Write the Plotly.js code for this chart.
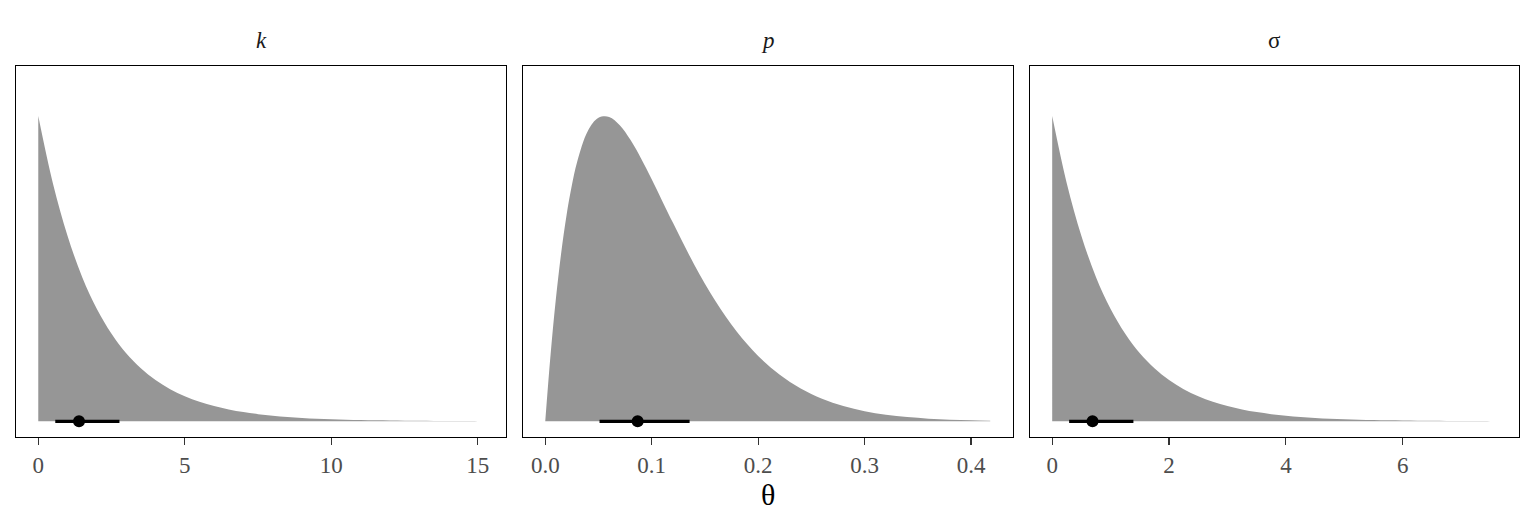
<!DOCTYPE html>
<html>
<head>
<meta charset="utf-8">
<script src="https://cdn.plot.ly/plotly-3.0.1.min.js"></script>
<style>html,body{margin:0;padding:0;background:#fff;}#chart{width:1536px;height:528px;}</style>
</head>
<body>
<div id="chart"></div>
<script>
// Facet labels
const facetLabels = ["<i>k</i>", "<i>p</i>", "σ"];
const axisTitle = "θ";

// k: slab (scaled density)
const kX = [0, 0.5, 1, 1.5, 2, 2.5, 3, 3.5, 4, 4.5, 5, 5.5, 6, 6.5, 7, 7.5, 8, 8.5, 9, 9.5, 10, 10.5, 11, 11.5, 12, 12.5, 13, 13.5, 14, 14.5, 15, 15.2];
const kH = [1.000, 0.779, 0.607, 0.472, 0.368, 0.287, 0.223, 0.174, 0.135, 0.105, 0.082, 0.064, 0.050, 0.0388, 0.0302, 0.0235, 0.0183, 0.0143, 0.0111, 0.0087, 0.0067, 0.0052, 0.0041, 0.0032, 0.0025, 0.0019, 0.0015, 0.0012, 0.0009, 0.0007, 0.00055, 0.0005];
// p
const pX = [0, 0.005, 0.01, 0.015, 0.02, 0.025, 0.03, 0.04, 0.05, 0.06, 0.07, 0.08, 0.09, 0.10, 0.12, 0.14, 0.16, 0.18, 0.20, 0.22, 0.24, 0.26, 0.28, 0.30, 0.32, 0.34, 0.36, 0.38, 0.40, 0.418];
const pH = [0, 0.218, 0.401, 0.552, 0.675, 0.773, 0.850, 0.951, 0.994, 0.997, 0.970, 0.922, 0.861, 0.793, 0.650, 0.513, 0.393, 0.293, 0.214, 0.153, 0.1075, 0.074, 0.050, 0.0332, 0.0216, 0.0138, 0.0087, 0.0053, 0.0032, 0.0020];
// sigma
const sX = [0, 0.25, 0.5, 0.75, 1, 1.25, 1.5, 1.75, 2, 2.25, 2.5, 2.75, 3, 3.25, 3.5, 3.75, 4, 4.25, 4.5, 4.75, 5, 5.25, 5.5, 5.75, 6, 6.25, 6.5, 6.75, 7, 7.25, 7.5, 7.6];
const sH = [1.000, 0.779, 0.607, 0.472, 0.368, 0.287, 0.223, 0.174, 0.135, 0.105, 0.082, 0.064, 0.050, 0.0388, 0.0302, 0.0235, 0.0183, 0.0143, 0.0111, 0.0087, 0.0067, 0.0052, 0.0041, 0.0032, 0.0025, 0.0019, 0.0015, 0.0012, 0.0009, 0.0007, 0.00055, 0.0005];

// Point intervals: [lower, upper], median
const kInterval = [0.58, 2.77], kMedian = 1.39;
const pInterval = [0.051, 0.1356], pMedian = 0.0868;
const sInterval = [0.29, 1.39], sMedian = 0.69;

// Axis ticks
const kTicks = [0, 5, 10, 15];
const pTicks = [0, 0.1, 0.2, 0.3, 0.4];
const sTicks = [0, 2, 4, 6];

const slabColor = "#969696";
const serif = "Liberation Serif, Times New Roman, serif";

function slab(x, y, ax) {
  return {x: x, y: y, xaxis: "x" + ax, yaxis: "y" + ax, type: "scatter", mode: "lines",
    line: {width: 0, shape: "spline", smoothing: 1, color: slabColor},
    fill: "tozeroy", fillcolor: slabColor, hoverinfo: "skip", showlegend: false};
}
function interval(iv, ax) {
  return {x: iv, y: [0, 0], xaxis: "x" + ax, yaxis: "y" + ax, type: "scatter", mode: "lines",
    line: {width: 3.2, color: "#000"}, showlegend: false};
}
function point(m, ax) {
  return {x: [m], y: [0], xaxis: "x" + ax, yaxis: "y" + ax, type: "scatter", mode: "markers",
    marker: {size: 12, color: "#000"}, showlegend: false};
}

const data = [
  slab(kX, kH, ""), interval(kInterval, ""), point(kMedian, ""),
  slab(pX, pH, "2"), interval(pInterval, "2"), point(pMedian, "2"),
  slab(sX, sH, "3"), interval(sInterval, "3"), point(sMedian, "3")
];

const W = 1536, H = 528;
const yDom = [(H - 437) / H, (H - 66) / H];
function xa(dom, range, ticks, fmt) {
  return {domain: dom, range: range, tickvals: ticks, ticktext: ticks.map(t => fmt ? t.toFixed(1) : String(t)),
    showline: true, mirror: true, linecolor: "#000", linewidth: 1.2, showgrid: false, zeroline: false,
    ticks: "outside", ticklen: 7, tickwidth: 1.2, tickcolor: "#333",
    tickfont: {family: serif, size: 23, color: "#4d4d4d"}, fixedrange: true};
}
function ya(anchor) {
  return {domain: yDom, range: [-0.0514, 1.1637], anchor: anchor, showline: true, mirror: true, linecolor: "#000",
    linewidth: 1.2, showgrid: false, zeroline: false, showticklabels: false, ticks: "", fixedrange: true};
}
function ann(text, xpx, ypx, size, color) {
  return {text: text, x: xpx / W, y: (H - ypx) / H, xref: "paper", yref: "paper", xanchor: "center", yanchor: "middle",
    showarrow: false, font: {family: serif, size: size, color: color}};
}

const layout = {
  width: W, height: H, margin: {l: 0, r: 0, t: 0, b: 0, autoexpand: false},
  paper_bgcolor: "#fff", plot_bgcolor: "#fff", showlegend: false,
  xaxis: xa([16 / W, 506 / W], [-0.76, 15.96], kTicks, false),
  xaxis2: xa([523 / W, 1013 / W], [-0.0209, 0.4394], pTicks, true),
  xaxis3: xa([1030 / W, 1519 / W], [-0.38, 7.99], sTicks, false),
  yaxis: ya("x"), yaxis2: ya("x2"), yaxis3: ya("x3"),
  annotations: [
    ann(facetLabels[0], 261, 41, 23, "#1a1a1a"),
    ann(facetLabels[1], 768, 41, 23, "#1a1a1a"),
    ann(facetLabels[2], 1274.5, 41, 23, "#1a1a1a"),
    ann(axisTitle, 768, 494, 30, "#000")
  ]
};

Plotly.newPlot("chart", data, layout, {staticPlot: true, displayModeBar: false});
</script>
</body>
</html>
